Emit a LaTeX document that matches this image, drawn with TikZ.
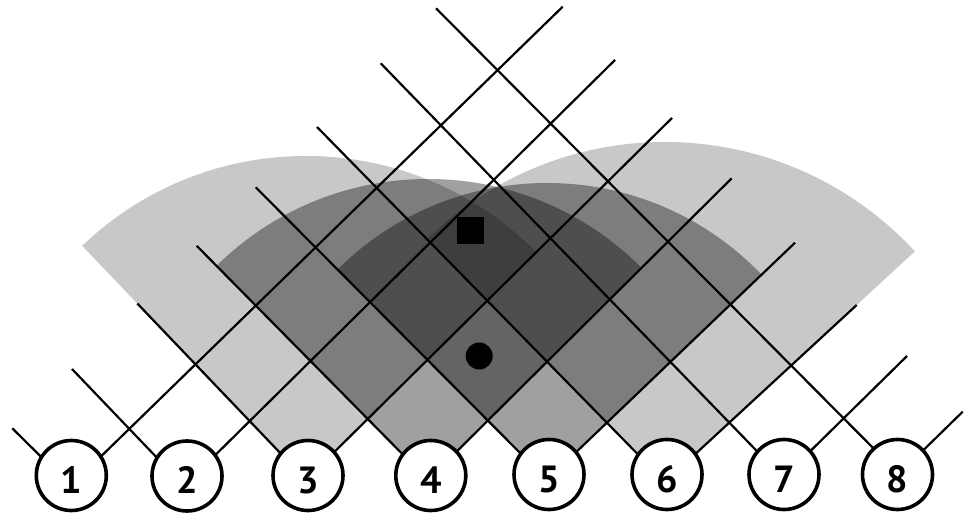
\documentclass[tikz,border=0pt]{standalone}
\usepackage{fontspec}
\setmainfont{PT Sans}
\usetikzlibrary{calc}

\begin{document}
\begin{tikzpicture}[x=1bp, y=-1bp,
    sensor/.style={circle, draw, line width=3.6bp, fill=white, minimum size=70bp, inner sep=0pt,
      font=\fontsize{38}{38}\selectfont\bfseries, text height=35bp, text depth=0pt},
    beam/.style={line width=2.2bp},
    far/.style={fill=black, fill opacity=0.216},
    near/.style={fill=black, fill opacity=0.373},
    spot/.style={fill=black, minimum size=27bp, inner sep=0pt},
  ]
    \useasboundingbox (0,0) rectangle (967,515);
    % beam origins
    \coordinate (j1) at (70.6,486);
    \coordinate (j2) at (184,486);
    \coordinate (j3) at (306,480);
    \coordinate (j4) at (428,480);
    \coordinate (j5) at (547,480);
    \coordinate (j6) at (665,482);
    \coordinate (j7) at (783,478);
    \coordinate (j8) at (899,474);
    % beam ends, left and right
    \coordinate (l1) at (12.3,428.3);
    \coordinate (l2) at (72,369);
    \coordinate (l3) at (137.3,303.5);
    \coordinate (l4) at (196.7,245.8);
    \coordinate (l5) at (255.7,187.3);
    \coordinate (l6) at (317,127);
    \coordinate (l7) at (380.7,63.3);
    \coordinate (l8) at (436,8.3);
    \coordinate (r1) at (562.7,6.7);
    \coordinate (r2) at (615,60);
    \coordinate (r3) at (672,118);
    \coordinate (r4) at (731.7,178.3);
    \coordinate (r5) at (795,242.7);
    \coordinate (r6) at (856.7,305);
    \coordinate (r7) at (907,356);
    \coordinate (r8) at (962.7,411.7);
    % coverage wedges
    \begin{scope}
      \clip (j3) -- ($(j3)!3!(l3)$) -- ($(j3)!3!(r3)$) -- cycle;
      \fill[far] (j3) circle[radius=324bp];
    \end{scope}
    \begin{scope}
      \clip (j6) -- ($(j6)!3!(l6)$) -- ($(j6)!3!(r6)$) -- cycle;
      \fill[far] (j6) circle[radius=340bp];
    \end{scope}
    \begin{scope}
      \clip (j4) -- ($(j4)!3!(l4)$) -- ($(j4)!3!(r4)$) -- cycle;
      \fill[near] (j4) circle[radius=301bp];
    \end{scope}
    \begin{scope}
      \clip (j5) -- ($(j5)!3!(l5)$) -- ($(j5)!3!(r5)$) -- cycle;
      \fill[near] (j5) circle[radius=297bp];
    \end{scope}
    % beams
    \draw[beam] (l1) -- (j1) -- (r1);
    \draw[beam] (l2) -- (j2) -- (r2);
    \draw[beam] (l3) -- (j3) -- (r3);
    \draw[beam] (l4) -- (j4) -- (r4);
    \draw[beam] (l5) -- (j5) -- (r5);
    \draw[beam] (l6) -- (j6) -- (r6);
    \draw[beam] (l7) -- (j7) -- (r7);
    \draw[beam] (l8) -- (j8) -- (r8);
    % sensors
    \node[sensor] (s1) at (71.3,475.5) {1};
    \node[sensor] (s2) at (187,476) {2};
    \node[sensor] (s3) at (308,475.5) {3};
    \node[sensor] (s4) at (430.8,475.5) {4};
    \node[sensor] (s5) at (549,474.5) {5};
    \node[sensor] (s6) at (667,474.5) {6};
    \node[sensor] (s7) at (784,474.5) {7};
    \node[sensor] (s8) at (897.5,474.5) {8};
    % source and estimate
    \node[spot] (source) at (470,230.3) {};
    \node[spot, circle] (estimate) at (479.2,356) {};
\end{tikzpicture}
\end{document}
